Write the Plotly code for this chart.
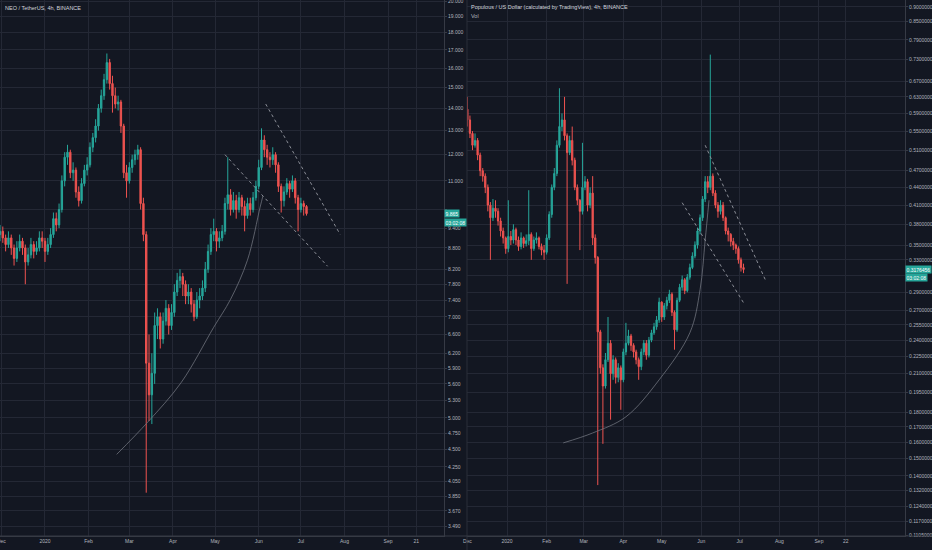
import plotly.graph_objects as go
import pandas as pd
import numpy as np

# ---------------- NEO / TetherUS (left panel), 2-day candles ----------------
neo_start = "2019-11-30"
neo_open0 = 9.2
neo_close = [9.3, 9.1, 8.9, 9.1, 8.8, 8.5, 8.8, 9.0, 8.8, 8.4,
             8.6, 8.9, 8.7, 8.8, 9.1, 9.0, 8.7, 8.9, 9.2, 9.7,
             9.5, 10.0, 11.0, 11.9, 12.1, 11.3, 11.4, 10.6, 10.3, 10.9,
             11.4, 11.6, 12.3, 12.7, 13.2, 14.0, 14.6, 15.4, 16.3, 15.2,
             14.6, 14.2, 14.3, 13.2, 11.3, 11.0, 11.5, 11.8, 12.0, 12.2,
             10.2, 9.2, 6.0, 5.4, 5.8, 6.8, 7.0, 6.5, 6.9, 7.2,
             6.8, 7.1, 7.6, 7.9, 8.0, 7.8, 7.5, 7.6, 7.3, 7.0,
             7.4, 7.5, 7.7, 8.2, 8.7, 9.2, 9.3, 9.0, 9.1, 9.3,
             10.2, 10.5, 10.0, 10.3, 10.0, 10.4, 10.1, 9.8, 10.2, 10.0,
             10.4, 10.8, 11.5, 12.6, 12.2, 11.9, 11.8, 12.0, 11.6, 10.8,
             10.3, 10.6, 10.9, 10.7, 11.0, 10.4, 10.0, 10.2, 10.1, 9.865]
neo_high = [9.5, 9.45, 9.2, 9.3, 9.2, 8.9, 9.0, 9.2, 9.1, 8.9,
            8.8, 9.1, 9.0, 9.0, 9.3, 9.3, 9.1, 9.1, 9.4, 9.9,
            9.9, 10.2, 11.2, 12.1, 12.4, 12.2, 11.7, 11.5, 10.8, 11.1,
            11.6, 11.9, 12.5, 12.9, 13.5, 14.2, 14.9, 15.7, 16.8, 16.5,
            15.6, 15.0, 14.6, 14.4, 13.3, 11.6, 11.7, 12.0, 12.2, 12.4,
            12.3, 10.4, 9.3, 6.6, 6.2, 7.1, 7.2, 7.1, 7.1, 7.4,
            7.3, 7.3, 7.8, 8.1, 8.2, 8.1, 7.9, 7.8, 7.7, 7.4,
            7.6, 7.7, 7.9, 8.4, 8.9, 9.4, 9.7, 9.4, 9.3, 9.5,
            10.4, 11.9, 10.7, 10.6, 10.5, 10.6, 10.5, 10.3, 10.4, 10.4,
            10.6, 11.0, 11.8, 13.1, 12.8, 12.4, 12.1, 12.3, 12.1, 11.7,
            10.9, 10.8, 11.1, 11.0, 11.2, 11.1, 10.5, 10.4, 10.3, 10.15]
neo_low = [9.0, 8.95, 8.7, 8.8, 8.6, 8.3, 8.4, 8.7, 8.6, 7.8,
           8.3, 8.5, 8.5, 8.6, 8.7, 8.8, 8.4, 8.6, 8.8, 9.1,
           9.3, 9.4, 9.9, 10.8, 11.6, 11.1, 11.0, 10.4, 10.1, 10.2,
           10.8, 11.2, 11.5, 12.1, 12.5, 13.0, 13.8, 14.4, 15.2, 14.9,
           13.8, 14.0, 13.9, 12.9, 11.1, 10.4, 10.9, 11.3, 11.6, 11.8,
           10.0, 9.0, 3.9, 4.95, 4.9, 5.6, 6.5, 6.3, 6.4, 6.8,
           6.6, 6.7, 7.0, 7.5, 7.7, 7.5, 7.3, 7.3, 7.1, 6.9,
           6.95, 7.2, 7.4, 7.6, 8.1, 8.6, 9.0, 8.7, 8.8, 9.0,
           9.2, 10.0, 9.8, 9.9, 9.7, 9.9, 9.8, 9.3, 9.7, 9.8,
           9.9, 10.3, 10.7, 11.4, 11.9, 11.6, 11.5, 11.6, 11.3, 10.6,
           9.9, 10.1, 10.5, 10.4, 10.6, 10.2, 9.3, 9.9, 9.8, 9.8]

# ---------------- Populous / US Dollar (right panel), 2-day candles ----------------
ppt_start = "2019-12-01"
ppt_open0 = 0.60
ppt_close = [0.575, 0.545, 0.52, 0.53, 0.50, 0.47, 0.46, 0.44, 0.41, 0.39,
             0.405, 0.40, 0.385, 0.37, 0.36, 0.345, 0.362, 0.357, 0.372, 0.357,
             0.348, 0.36, 0.352, 0.356, 0.365, 0.345, 0.357, 0.36, 0.348, 0.343,
             0.34, 0.36, 0.395, 0.44, 0.465, 0.52, 0.56, 0.575, 0.54, 0.505,
             0.53, 0.49, 0.44, 0.418, 0.40, 0.44, 0.45, 0.41, 0.43, 0.36,
             0.333, 0.248, 0.215, 0.20, 0.222, 0.237, 0.21, 0.222, 0.207, 0.215,
             0.205, 0.229, 0.237, 0.244, 0.235, 0.229, 0.222, 0.216, 0.229, 0.237,
             0.226, 0.24, 0.247, 0.253, 0.26, 0.279, 0.263, 0.275, 0.281, 0.288,
             0.268, 0.25, 0.281, 0.296, 0.305, 0.292, 0.308, 0.32, 0.335, 0.35,
             0.37, 0.39, 0.42, 0.45, 0.44, 0.46, 0.43, 0.41, 0.40, 0.41,
             0.39, 0.37, 0.365, 0.355, 0.35, 0.345, 0.33, 0.32, 0.3176456]
ppt_high = [0.63, 0.585, 0.55, 0.545, 0.535, 0.505, 0.475, 0.465, 0.445, 0.415,
            0.42, 0.418, 0.405, 0.39, 0.375, 0.362, 0.418, 0.37, 0.38, 0.375,
            0.362, 0.368, 0.362, 0.365, 0.435, 0.368, 0.362, 0.368, 0.362, 0.352,
            0.35, 0.365, 0.40, 0.445, 0.475, 0.53, 0.652, 0.59, 0.63, 0.545,
            0.54, 0.56, 0.495, 0.445, 0.42, 0.525, 0.46, 0.455, 0.44, 0.46,
            0.365, 0.335, 0.25, 0.218, 0.228, 0.263, 0.24, 0.226, 0.224, 0.219,
            0.217, 0.232, 0.257, 0.25, 0.246, 0.237, 0.231, 0.224, 0.232, 0.24,
            0.24, 0.243, 0.25, 0.257, 0.264, 0.284, 0.28, 0.278, 0.285, 0.293,
            0.29, 0.27, 0.284, 0.30, 0.31, 0.307, 0.312, 0.325, 0.34, 0.355,
            0.375, 0.395, 0.425, 0.46, 0.46, 0.745, 0.465, 0.435, 0.415, 0.418,
            0.415, 0.392, 0.375, 0.367, 0.36, 0.352, 0.348, 0.333, 0.325]
ppt_low = [0.56, 0.535, 0.51, 0.515, 0.49, 0.46, 0.45, 0.43, 0.40, 0.33,
           0.385, 0.39, 0.378, 0.362, 0.352, 0.338, 0.34, 0.35, 0.352, 0.35,
           0.342, 0.344, 0.346, 0.348, 0.35, 0.33, 0.342, 0.352, 0.344, 0.336,
           0.33, 0.337, 0.357, 0.39, 0.435, 0.46, 0.515, 0.55, 0.53, 0.30,
           0.50, 0.48, 0.435, 0.41, 0.343, 0.395, 0.435, 0.40, 0.405, 0.35,
           0.325, 0.135, 0.21, 0.159, 0.198, 0.22, 0.175, 0.205, 0.202, 0.203,
           0.182, 0.203, 0.226, 0.235, 0.23, 0.224, 0.218, 0.205, 0.213, 0.226,
           0.222, 0.224, 0.238, 0.245, 0.25, 0.257, 0.258, 0.26, 0.271, 0.278,
           0.264, 0.231, 0.248, 0.279, 0.292, 0.288, 0.29, 0.305, 0.318, 0.332,
           0.345, 0.365, 0.385, 0.415, 0.43, 0.435, 0.425, 0.405, 0.39, 0.395,
           0.385, 0.365, 0.355, 0.348, 0.343, 0.338, 0.325, 0.315, 0.313]

# ---------------- axis ticks (labels hidden behind the last-price tags are blank) ----------------
neo_ticks = [20, 19, 18, 17, 16, 15, 14, 13, 12, 11, 10, 9.4, 8.8, 8.2, 7.8, 7.4, 7.0,
             6.6, 6.2, 5.9, 5.6, 5.3, 5.0, 4.75, 4.5, 4.25, 4.05, 3.85, 3.67, 3.49]
neo_tick_text = ["20.000", "19.000", "18.000", "17.000", "16.000", "15.000", "14.000",
                 "13.000", "12.000", "11.000", "", "9.400", "8.800", "8.200", "7.800",
                 "7.400", "7.000", "6.600", "6.200", "5.900", "5.600", "5.300", "5.000",
                 "4.750", "4.500", "4.250", "4.050", "3.850", "3.670", "3.490"]
ppt_ticks = [0.9, 0.85, 0.79, 0.73, 0.67, 0.63, 0.59, 0.55, 0.51, 0.47, 0.44, 0.41,
             0.38, 0.35, 0.33, 0.31, 0.29, 0.27, 0.255, 0.24, 0.225, 0.21, 0.195,
             0.18, 0.17, 0.16, 0.15, 0.14, 0.132, 0.124, 0.117, 0.1105]
ppt_tick_text = ["0.9000000", "0.8500000", "0.7900000", "0.7300000", "0.6700000",
                 "0.6300000", "0.5900000", "0.5500000", "0.5100000", "0.4700000",
                 "0.4400000", "0.4100000", "0.3800000", "0.3500000", "0.3300000", "",
                 "0.2900000", "0.2700000", "0.2550000", "0.2400000", "0.2250000",
                 "0.2100000", "0.1950000", "0.1800000", "0.1700000", "0.1600000",
                 "0.1500000", "0.1400000", "0.1320000", "0.1240000", "0.1170000",
                 "0.1105000"]
left_date_ticks = ["2019-12-01", "2020-01-01", "2020-02-01", "2020-03-01", "2020-04-01",
                   "2020-05-01", "2020-06-01", "2020-07-01", "2020-08-01", "2020-09-01",
                   "2020-09-21"]
left_date_text = ["Dec", "2020", "Feb", "Mar", "Apr", "May", "Jun", "Jul", "Aug", "Sep", "21"]
right_date_ticks = ["2019-12-01", "2020-01-01", "2020-02-01", "2020-03-01", "2020-04-01",
                    "2020-05-01", "2020-06-01", "2020-07-01", "2020-08-01", "2020-09-01",
                    "2020-09-22"]
right_date_text = ["Dec", "2020", "Feb", "Mar", "Apr", "May", "Jun", "Jul", "Aug", "Sep", "22"]

# ---------------- drawings (date, price) ----------------
neo_arc_x = ["2020-02-21", "2020-03-14", "2020-04-07", "2020-04-30", "2020-05-12",
             "2020-05-24", "2020-06-02", "2020-06-04"]
neo_arc_y = [4.43, 4.93, 5.63, 6.76, 7.42, 8.45, 10.08, 10.46]
neo_upper_x = ["2020-06-06", "2020-07-29"]
neo_upper_y = [14.2, 9.2]
neo_lower_x = ["2020-05-08", "2020-07-20"]
neo_lower_y = [12.0, 8.28]

ppt_arc_x = ["2020-02-14", "2020-03-08", "2020-04-03", "2020-04-29", "2020-05-23",
             "2020-05-31", "2020-06-04", "2020-06-07"]
ppt_arc_y = [0.1596, 0.166, 0.177, 0.205, 0.247, 0.293, 0.357, 0.418]
ppt_upper_x = ["2020-06-04", "2020-07-21"]
ppt_upper_y = [0.52, 0.305]
ppt_lower_x = ["2020-05-17", "2020-07-05"]
ppt_lower_y = [0.414, 0.276]

BG = "#131722"
GRID = "#242835"
TXT = "#b2b5be"
UP = "#26a69a"
DN = "#ef5350"
FONT = "Liberation Sans"


def candles(start, open0, close, high, low, xa, ya):
    dates = pd.date_range(start, periods=len(close), freq="2D")
    opens = [open0] + close[:-1]
    return go.Candlestick(
        x=dates, open=opens, high=high, low=low, close=close,
        xaxis=xa, yaxis=ya,
        increasing=dict(line=dict(color=UP, width=1), fillcolor=UP),
        decreasing=dict(line=dict(color=DN, width=1), fillcolor=DN),
        whiskerwidth=0, hoverinfo="skip", showlegend=False)


fig = go.Figure()
fig.add_trace(candles(neo_start, neo_open0, neo_close, neo_high, neo_low, "x", "y"))
fig.add_trace(candles(ppt_start, ppt_open0, ppt_close, ppt_high, ppt_low, "x2", "y2"))

draw_col = "#8a8d96"
fig.add_trace(go.Scatter(x=neo_arc_x, y=neo_arc_y, mode="lines", xaxis="x", yaxis="y",
                         line=dict(color="#6f727c", width=0.8, shape="spline"),
                         hoverinfo="skip", showlegend=False))
for xs, ys in [(neo_upper_x, neo_upper_y), (neo_lower_x, neo_lower_y)]:
    fig.add_trace(go.Scatter(x=xs, y=ys, mode="lines", xaxis="x", yaxis="y",
                             line=dict(color=draw_col, width=1, dash="dot"),
                             hoverinfo="skip", showlegend=False))
fig.add_trace(go.Scatter(x=ppt_arc_x, y=ppt_arc_y, mode="lines", xaxis="x2", yaxis="y2",
                         line=dict(color="#6f727c", width=0.8, shape="spline"),
                         hoverinfo="skip", showlegend=False))
for xs, ys in [(ppt_upper_x, ppt_upper_y), (ppt_lower_x, ppt_lower_y)]:
    fig.add_trace(go.Scatter(x=xs, y=ys, mode="lines", xaxis="x2", yaxis="y2",
                             line=dict(color=draw_col, width=1, dash="dot"),
                             hoverinfo="skip", showlegend=False))

W, H = 932, 550
ydom = [14 / H, 1]
TICKFONT = dict(size=5, color=TXT, family=FONT)
common_x = dict(type="date", showgrid=True, gridcolor=GRID, gridwidth=1, showline=True,
                linecolor="#363a45", ticks="", tickfont=TICKFONT, ticklabeloverflow="allow",
                rangeslider=dict(visible=False), automargin=False, zeroline=False,
                fixedrange=True)
common_y = dict(type="log", side="right", showgrid=True, gridcolor=GRID, gridwidth=1,
                showline=True, linecolor="#363a45", ticks="outside", ticklen=2,
                tickcolor="#363a45", tickfont=TICKFONT, ticklabeloverflow="allow",
                automargin=False, zeroline=False, fixedrange=True)

fig.update_layout(
    width=W, height=H, margin=dict(l=0, r=0, t=0, b=0),
    paper_bgcolor=BG, plot_bgcolor=BG, showlegend=False,
    xaxis=dict(common_x, domain=[0, 444 / W], anchor="y",
               range=["2019-11-30 00:00", "2020-10-10 19:00"],
               tickvals=left_date_ticks, ticktext=left_date_text),
    yaxis=dict(common_y, domain=ydom, anchor="x",
               range=[np.log10(3.377), np.log10(20.07)],
               tickvals=neo_ticks, ticktext=neo_tick_text),
    xaxis2=dict(common_x, domain=[467 / W, 905 / W], anchor="y2",
                range=["2019-11-30 17:00", "2020-11-07 07:00"],
                tickvals=right_date_ticks, ticktext=right_date_text),
    yaxis2=dict(common_y, domain=ydom, anchor="x2",
                range=[np.log10(0.1103), np.log10(0.9253)],
                tickvals=ppt_ticks, ticktext=ppt_tick_text),
)

# separators
fig.add_shape(type="line", xref="paper", yref="paper", x0=467 / W, x1=467 / W, y0=0, y1=1,
              line=dict(color="#2a2e39", width=1))
fig.add_shape(type="line", xref="paper", yref="paper", x0=0, x1=1, y0=ydom[0], y1=ydom[0],
              line=dict(color="#363a45", width=1))

# titles
fig.add_annotation(text="NEO / TetherUS, 4h, BINANCE", xref="paper", yref="paper",
                   x=3 / W, y=1 - 8 / H, xanchor="left", yanchor="middle", showarrow=False,
                   font=dict(size=5.5, color="#d1d4dc", family=FONT))
fig.add_annotation(text="Populous / US Dollar (calculated by TradingView), 4h, BINANCE",
                   xref="paper", yref="paper", x=469 / W, y=1 - 7 / H, xanchor="left",
                   yanchor="middle", showarrow=False,
                   font=dict(size=5.5, color="#d1d4dc", family=FONT))
fig.add_annotation(text="Vol", xref="paper", yref="paper", x=469 / W, y=1 - 16 / H,
                   xanchor="left", yanchor="middle", showarrow=False,
                   font=dict(size=5.5, color="#b2b5be", family=FONT))

# last-price tags
neo_last = neo_close[-1]
ppt_last = ppt_close[-1]
for xr, yref, val, txt in [(444 / W, "y", neo_last, f"{neo_last:.3f}"),
                           (905 / W, "y2", ppt_last, f"{ppt_last:.7f}")]:
    fig.add_annotation(text=txt, xref="paper", yref=yref, x=xr, y=np.log10(val),
                       xanchor="left", yanchor="middle", showarrow=False,
                       bgcolor=UP, borderpad=0.5,
                       font=dict(size=5, color="#ffffff", family=FONT))
    fig.add_annotation(text="03:02:08", xref="paper", yref=yref, x=xr, y=np.log10(val),
                       yshift=-8.5, xanchor="left", yanchor="middle", showarrow=False,
                       bgcolor=UP, borderpad=0.5,
                       font=dict(size=5, color="#ffffff", family=FONT))

fig.write_html("out.html",
               config={"displayModeBar": False, "staticPlot": True},
               post_script="document.body.style.margin='0';"
                           "document.body.style.overflow='hidden';"
                           "document.body.style.background='#131722';")
